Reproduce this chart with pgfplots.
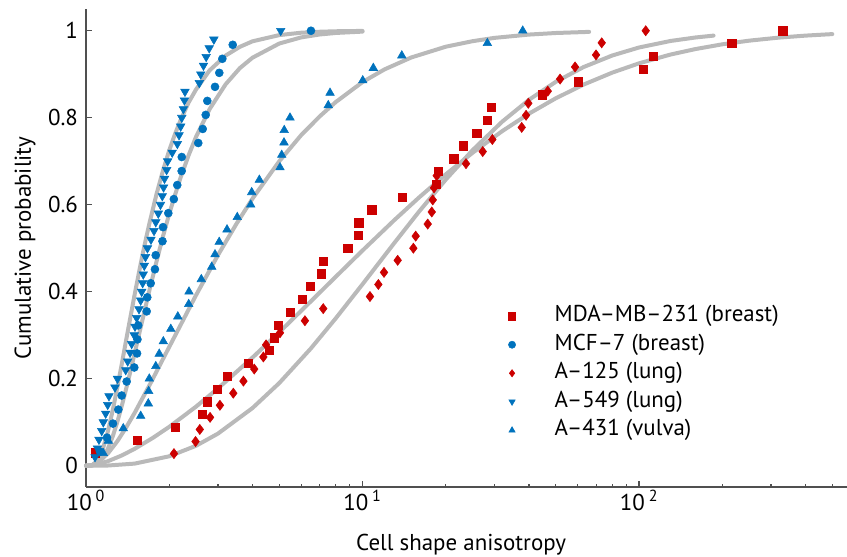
\documentclass[border=0pt]{standalone}
\usepackage{pgfplots}
\pgfplotsset{compat=1.18}
\usepackage{fontspec}
\setmainfont{PT Sans}
\definecolor{mred}{RGB}{204,0,0}
\definecolor{mblue}{RGB}{0,114,189}
\definecolor{fitgray}{RGB}{185,185,185}
\definecolor{axgray}{RGB}{80,80,80}
\newcommand\pf{\fontsize{17.2}{20.6}\selectfont}
\begin{document}
\begin{tikzpicture}
\begin{axis}[
  scale only axis,
  width=570.75pt, height=358.5pt,
  xmode=log,
  xmin=1, xmax=565,
  ymin=-0.049, ymax=1.05,
  enlargelimits=false,
  axis lines=left,
  axis line style={-, axgray, line width=0.9pt},
  tick align=inside,
  major tick length=4.5pt, minor tick length=2.6pt,
  tick style={axgray, line width=0.9pt},
  xtick={1,10,100},
  xticklabels={10\,\textsuperscript{0},10\,\textsuperscript{1},10\,\textsuperscript{2}},
  minor xtick={2,3,4,5,6,7,8,9,20,30,40,50,60,70,80,90,200,300,400,500},
  ytick={0,0.2,0.4,0.6,0.8,1},
  yticklabels={0,0.2,0.4,0.6,0.8,1},
  tick label style={font=\pf},
  xticklabel style={yshift=1pt},
  yticklabel style={xshift=-2.5pt},
  label style={font=\pf},
  xlabel={Cell shape anisotropy},
  ylabel={Cumulative probability},
  xlabel style={at={(axis description cs:0.493,-0.121)}, anchor=center},
  ylabel style={at={(axis description cs:-0.080,0.5)}, anchor=center},
  legend style={draw=none, fill=none, font=\pf,
    at={(axis description cs:0.549,0.383)}, anchor=north west,
    row sep=3.4pt, inner sep=0pt,
    nodes={inner sep=1pt, text height=12pt, text depth=4pt}},
  legend cell align=left,
  legend image code/.code={\path[draw=none,fill=none] (-6pt,0pt) -- (31pt,0pt); \draw[#1,mark size=2.7pt] plot coordinates {(0pt,0pt)};},
  clip=false,
]
% fitted curves
\addplot[fitgray, line width=3pt, line cap=round, line join=round, forget plot] coordinates {
(1,0) (1.05,0.0008) (1.1,0.0113) (1.15,0.038) (1.2,0.0787) (1.25,0.128) (1.3,0.182) (1.35,0.237) (1.4,0.292) (1.45,0.344) (1.5,0.394) (1.55,0.440) (1.6,0.484) (1.65,0.5235) (1.7,0.560) (1.8,0.625) (1.9,0.679) (2.0,0.725) (2.1,0.763) (2.2,0.795) (2.35,0.835) (2.5,0.865) (2.8,0.909) (3.2,0.943) (3.6,0.963) (4,0.9757) (5,0.990) (6,0.9955) (7,0.9977) (8,0.9988) (10,0.9996)};
\addplot[fitgray, line width=3pt, line cap=round, line join=round, forget plot] coordinates {
(1,0) (1.05,0.0003) (1.1,0.0045) (1.15,0.0172) (1.2,0.0388) (1.25,0.0678) (1.3,0.102) (1.35,0.1397) (1.4,0.179) (1.45,0.219) (1.5,0.259) (1.55,0.2977) (1.6,0.335) (1.7,0.406) (1.8,0.470) (1.9,0.528) (2.0,0.579) (2.1,0.623) (2.2,0.663) (2.35,0.7136) (2.5,0.756) (2.8,0.820) (3.2,0.877) (3.6,0.914) (4,0.938) (5,0.9706) (6,0.9847) (7,0.9914) (8,0.9949) (10,0.998)};
\addplot[fitgray, line width=3pt, line cap=round, line join=round, forget plot] coordinates {
(1,0) (1.05,0.0012) (1.1,0.0067) (1.2,0.028) (1.3,0.0568) (1.4,0.0888) (1.5,0.1216) (1.7,0.186) (2.0,0.273) (2.5,0.392) (3,0.484) (3.5,0.556) (4,0.614) (5,0.700) (6,0.760) (7,0.803) (8,0.836) (10,0.882) (12,0.911) (15,0.9385) (20,0.9633) (25,0.976) (30,0.9836) (40,0.9912) (50,0.9948) (66,0.9974)};
\addplot[fitgray, line width=3pt, line cap=round, line join=round, forget plot] coordinates {
(1,0) (1.02,0.0001) (1.05,0.0008) (1.1,0.0031) (1.2,0.0102) (1.35,0.0238) (1.5,0.0388) (1.75,0.0644) (2,0.0893) (2.5,0.1358) (3,0.1775) (4,0.2486) (5,0.3068) (6.5,0.3777) (8,0.4343) (10,0.4947) (13,0.564) (16,0.6165) (20,0.6698) (25,0.7194) (32,0.7692) (40,0.8094) (50,0.8447) (63,0.8762) (80,0.9037) (100,0.9251) (130,0.9453) (160,0.9579) (200,0.9688) (250,0.9772) (320,0.9842) (400,0.9888) (500,0.9923)};
\addplot[fitgray, line width=3pt, line cap=round, line join=round, forget plot] coordinates {
(1,0) (1.1,0.00004) (1.2,0.0004) (1.5,0.0048) (2,0.0216) (2.5,0.0458) (3,0.0737) (4,0.1325) (5,0.190) (6.5,0.2693) (8,0.3387) (10,0.4172) (13,0.5112) (16,0.584) (20,0.6577) (25,0.7254) (32,0.791) (40,0.8413) (50,0.8826) (63,0.9165) (80,0.9431) (100,0.9615) (130,0.9765) (160,0.9845) (186,0.9888)};
% MDA-MB-231
\addplot[only marks, mark=square*, mark size=3.1pt, color=mred] coordinates {
(1.078,0.0294) (1.533,0.0588) (2.10,0.0882) (2.64,0.1176) (2.75,0.1471) (2.99,0.1765) (3.24,0.2059) (3.86,0.2353) (4.59,0.2647) (4.79,0.2941) (4.96,0.3235) (5.47,0.3529) (6.06,0.3824) (6.46,0.4118) (7.08,0.4412) (7.22,0.4706) (8.84,0.5000) (9.66,0.5294) (9.70,0.5588) (10.80,0.5882) (13.96,0.6176) (18.5,0.6471) (18.8,0.6765) (21.4,0.7059) (23.1,0.7353) (25.9,0.7647) (28.3,0.7941) (29.3,0.8235) (44.7,0.8529) (60.3,0.8824) (103.6,0.9118) (112.3,0.9412) (216.4,0.9706) (331,1.0)};
\addlegendentry{MDA--MB--231 (breast)}
% MCF-7
\addplot[only marks, mark=*, mark size=3.0pt, color=mblue] coordinates {
(1.124,0.0323) (1.191,0.0645) (1.252,0.0968) (1.309,0.1290) (1.346,0.1613) (1.403,0.1935) (1.495,0.2258) (1.530,0.2581) (1.535,0.2903) (1.545,0.3226) (1.658,0.3548) (1.666,0.3871) (1.714,0.4194) (1.776,0.4516) (1.787,0.4839) (1.891,0.5161) (1.899,0.5484) (1.985,0.5806) (2.078,0.6129) (2.138,0.6452) (2.218,0.6774) (2.22,0.7097) (2.547,0.7419) (2.643,0.7742) (2.710,0.8065) (2.746,0.8387) (2.928,0.8710) (3.034,0.9032) (3.112,0.9355) (3.393,0.9677) (6.51,1.0)};
\addlegendentry{MCF--7 (breast)}
% A-125
\addplot[only marks, mark=diamond*, mark size=3.8pt, color=mred] coordinates {
(2.08,0.0278) (2.49,0.0556) (2.58,0.0833) (2.81,0.1111) (3.05,0.1389) (3.41,0.1667) (3.71,0.1944) (4.06,0.2222) (4.38,0.25) (4.48,0.2778) (5.03,0.3056) (6.19,0.3333) (7.21,0.3611) (10.64,0.3889) (11.41,0.4167) (11.96,0.4444) (13.4,0.4722) (15.27,0.5) (15.57,0.5278) (17.21,0.5556) (17.80,0.5833) (17.95,0.6111) (18.14,0.6389) (18.55,0.6667) (23.67,0.6944) (27.21,0.7222) (29.48,0.75) (37.65,0.7778) (39.03,0.8056) (39.78,0.8333) (46.76,0.8611) (51.81,0.8889) (58.7,0.9167) (69.9,0.9444) (73.3,0.9722) (105.7,1.0)};
\addlegendentry{A--125 (lung)}
% A-549
\addplot[only marks, mark=triangle*, mark size=3.7pt, mark options={rotate=180}, color=mblue] coordinates {
(1.078,0.02) (1.10,0.04) (1.114,0.06) (1.14,0.08) (1.155,0.10) (1.178,0.12) (1.198,0.14) (1.211,0.16) (1.273,0.18) (1.30,0.20) (1.392,0.22) (1.415,0.24) (1.443,0.26) (1.463,0.28) (1.495,0.30) (1.504,0.32) (1.525,0.34) (1.555,0.36) (1.577,0.38) (1.590,0.40) (1.603,0.42) (1.611,0.44) (1.625,0.46) (1.641,0.48) (1.668,0.50) (1.718,0.52) (1.762,0.54) (1.788,0.56) (1.826,0.58) (1.859,0.60) (1.888,0.62) (1.908,0.64) (1.923,0.66) (1.957,0.68) (1.974,0.70) (2.05,0.72) (2.14,0.74) (2.17,0.76) (2.20,0.78) (2.22,0.80) (2.25,0.82) (2.27,0.84) (2.28,0.86) (2.57,0.88) (2.60,0.90) (2.66,0.92) (2.72,0.94) (2.79,0.96) (2.90,0.98) (5.06,1.0)};
\addlegendentry{A--549 (lung)}
% A-431
\addplot[only marks, mark=triangle*, mark size=3.7pt, color=mblue] coordinates {
(1.155,0.0286) (1.204,0.0571) (1.364,0.0857) (1.577,0.1143) (1.680,0.1429) (1.685,0.1714) (1.694,0.2) (1.788,0.2286) (1.840,0.2571) (1.904,0.2857) (2.026,0.3143) (2.148,0.3429) (2.352,0.3714) (2.358,0.4) (2.612,0.4286) (2.849,0.4571) (2.928,0.4857) (3.032,0.5143) (3.236,0.5429) (3.524,0.5714) (3.942,0.6) (3.975,0.6286) (4.235,0.6571) (5.030,0.6857) (5.102,0.7143) (5.20,0.7429) (5.21,0.7714) (5.468,0.8) (7.52,0.8286) (7.63,0.8571) (10.02,0.8857) (10.94,0.9143) (13.87,0.9429) (28.28,0.9714) (37.97,1.0)};
\addlegendentry{A--431 (vulva)}
\end{axis}
\pgfresetboundingbox
\path ([xshift=-64.5pt,yshift=-52.5pt]current axis.south west) rectangle ([yshift=6.75pt]current axis.north east);
\end{tikzpicture}
\end{document}
